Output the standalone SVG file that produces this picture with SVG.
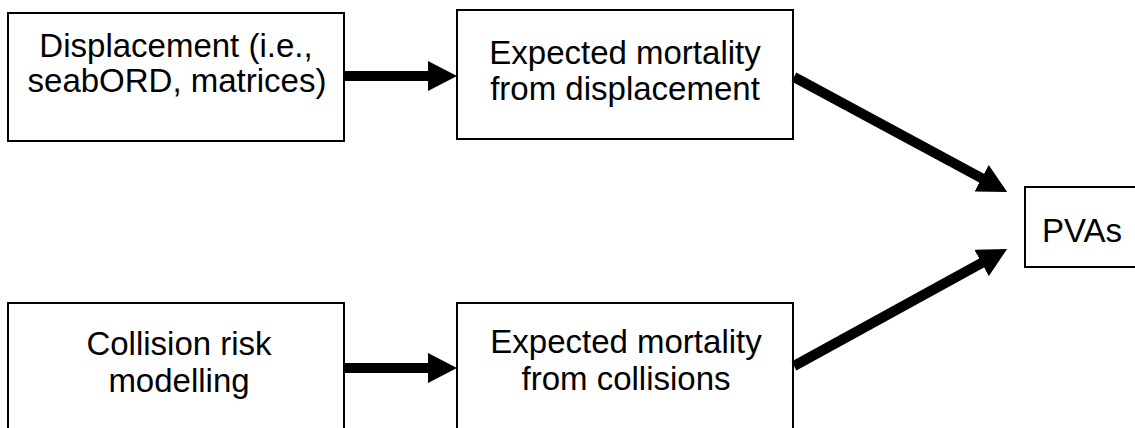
<svg xmlns="http://www.w3.org/2000/svg" width="1135" height="428" viewBox="0 0 1135 428">
<style>
.box{fill:#fff;stroke:#000;stroke-width:2}
.lbl{font-family:"Liberation Sans",Arial,sans-serif;font-size:33px;fill:#000;text-anchor:middle}
.conn{stroke:#000;stroke-width:10;fill:none;marker-end:url(#head)}
</style>
<defs>
<marker id="head" markerUnits="userSpaceOnUse" markerWidth="30" markerHeight="30" viewBox="0 0 30 30" refX="1" refY="15" orient="auto">
<path d="M0,0 L29,15 L0,30 z" fill="#000"/>
</marker>
</defs>
<rect width="1135" height="428" fill="#fff"/>
<g id="displacement">
<rect class="box" x="8" y="13" width="336" height="128"/>
<text class="lbl" x="176" y="57">Displacement (i.e.,</text>
<text class="lbl" x="177" y="92">seabORD, matrices)</text>
</g>
<g id="mortality-displacement">
<rect class="box" x="457" y="10" width="336" height="129"/>
<text class="lbl" x="625" y="64">Expected mortality</text>
<text class="lbl" x="625" y="100">from displacement</text>
</g>
<g id="collision-risk">
<rect class="box" x="8" y="303" width="336" height="135"/>
<text class="lbl" x="179" y="355">Collision risk</text>
<text class="lbl" x="179" y="392">modelling</text>
</g>
<g id="mortality-collisions">
<rect class="box" x="457" y="303" width="336" height="135"/>
<text class="lbl" x="626" y="353">Expected mortality</text>
<text class="lbl" x="626" y="390">from collisions</text>
</g>
<g id="pvas">
<rect class="box" x="1025" y="187" width="130" height="80"/>
<text class="lbl" x="1082" y="242">PVAs</text>
</g>
<g id="connectors">
<line class="conn" x1="344" y1="76" x2="429" y2="76"/>
<line class="conn" x1="344" y1="368" x2="429" y2="368"/>
<line class="conn" x1="794" y1="77" x2="982.5" y2="178.7"/>
<line class="conn" x1="794" y1="366" x2="982.5" y2="262.5"/>
</g>
</svg>
